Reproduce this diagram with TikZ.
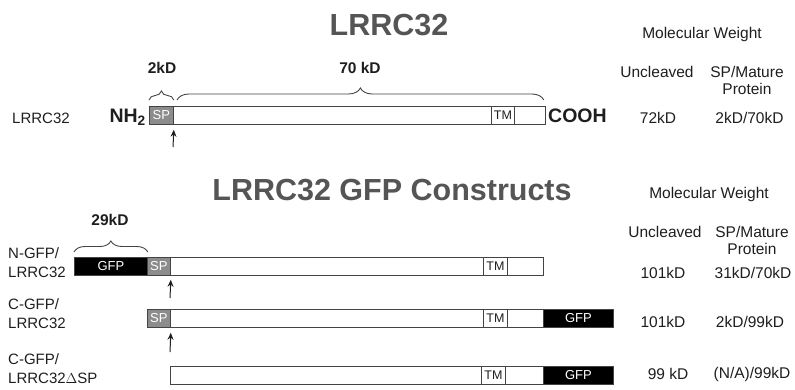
\documentclass[tikz,border=0pt]{standalone}
\usepackage{fontspec}
\setmainfont{Liberation Sans}
\usetikzlibrary{decorations.pathreplacing,arrows.meta}
\definecolor{titlegray}{HTML}{555555}
\definecolor{spgray}{HTML}{8C8C8C}
\definecolor{txt}{HTML}{1E1E1E}
\definecolor{edge}{HTML}{444444}
\tikzset{
  box/.style={draw=edge, line width=0.8pt, inner sep=0pt, anchor=north west, minimum height=18pt},
  barbox/.style={box, fill=white},
  spbox/.style={box, fill=spgray, text=white, font=\fontsize{13}{13}\selectfont},
  gfpbox/.style={box, fill=black, text=white, font=\fontsize{13}{13}\selectfont},
  tmbox/.style={box, fill=white, text=txt, font=\fontsize{12.5}{12.5}\selectfont},
  title/.style={text=titlegray, font=\fontsize{30.5}{34}\selectfont\bfseries, inner sep=0pt},
  lbl/.style={text=txt, font=\fontsize{15}{19}\selectfont, inner sep=0pt, align=left, anchor=west},
  val/.style={text=txt, font=\fontsize{15.5}{17}\selectfont, inner sep=0pt, align=center},
  kd/.style={text=txt, font=\fontsize{15.5}{17}\selectfont\bfseries, inner sep=0pt},
  term/.style={text=txt, font=\fontsize{19.5}{20}\selectfont\bfseries, inner sep=0pt},
  brc/.style={draw=edge, line width=0.9pt, decorate, decoration={brace, amplitude=#1}},
  uparrow/.style={draw=txt, line width=1pt, -{Stealth[length=7pt,width=6pt]}}
}
\begin{document}
\begin{tikzpicture}[x=1pt,y=-1pt]
\useasboundingbox (0,0) rectangle (795,390);
% ---------- top ----------
\node[title] (t1) at (389,25) {LRRC32};
\node[val] (mw1) at (702,34) {Molecular Weight};
\node[val] (unc1) at (657,72) {Uncleaved};
\node[val] (spm1) at (747,80.5) {SP/Mature\\Protein};

\node[lbl] (l0) at (12,118) {LRRC32};
\node[term, anchor=east] (nh2) at (146,117) {NH\textsubscript{2}};
\node[barbox, minimum width=372pt] (bar0) at (173,106) {};
\node[spbox, minimum width=24pt] (sp0) at (149,106) {SP};
\node[tmbox, minimum width=23pt] (tm0) at (491,106) {TM};
\node[term, anchor=west] (cooh) at (548,116) {COOH};
\node[val] (v0a) at (658,118) {72kD};
\node[val] (v0b) at (749.5,118) {2kD/70kD};

\draw[brc=9pt] ([yshift=6pt]sp0.north west) -- ([yshift=6pt]sp0.north east);
\draw[brc=12pt] ([xshift=4pt,yshift=6pt]bar0.north west) -- ([xshift=-2pt,yshift=6pt]bar0.north east);
\node[kd] (k2) at (162,68) {2kD};
\node[kd] (k70) at (360,68) {70 kD};
\coordinate (a0) at (173,147);
\draw[uparrow] (a0) -- ([yshift=-5pt]sp0.south east);

% ---------- bottom ----------
\node[title] (t2) at (392,190) {LRRC32 GFP Constructs};
\node[val] (mw2) at (709,194) {Molecular Weight};
\node[val] (unc2) at (665,232) {Uncleaved};
\node[val] (spm2) at (752,240.5) {SP/Mature\\Protein};

% row 1
\node[lbl] (l1) at (8,262.5) {N-GFP/\\LRRC32};
\node[gfpbox, minimum width=73pt] (g1) at (74,257) {GFP};
\node[spbox, minimum width=23pt] (sp1) at (147,257) {SP};
\node[barbox, minimum width=373pt] (bar1) at (170,257) {};
\node[tmbox, minimum width=24pt] (tm1) at (483,257) {TM};
\node[val] (v1a) at (663,273) {101kD};
\node[val] (v1b) at (753,273) {31kD/70kD};
\draw[brc=11pt] ([yshift=5pt]g1.north west) -- ([yshift=5pt]g1.north east);
\node[kd] (k29) at (110,220) {29kD};
\coordinate (a1) at (170,298);
\draw[uparrow] (a1) -- ([yshift=-4pt]sp1.south east);

% row 2
\node[lbl] (l2) at (8,314) {C-GFP/\\LRRC32};
\node[spbox, minimum width=23pt] (sp2) at (147,309) {SP};
\node[barbox, minimum width=373pt] (bar2) at (170,309) {};
\node[tmbox, minimum width=24pt] (tm2) at (483,309) {TM};
\node[gfpbox, minimum width=70pt] (g2) at (543,309) {GFP};
\node[val] (v2a) at (663,322) {101kD};
\node[val] (v2b) at (750,322) {2kD/99kD};
\coordinate (a2) at (170,352);
\draw[uparrow] (a2) -- ([yshift=-5pt]sp2.south east);

% row 3
\node[lbl] (l3) at (8,369) {C-GFP/\\LRRC32\(\Delta\)SP};
\node[barbox, minimum width=373pt] (bar3) at (170,366) {};
\node[tmbox, minimum width=24pt] (tm3) at (481,366) {TM};
\node[gfpbox, minimum width=70pt] (g3) at (543,366) {GFP};
\node[val] (v3a) at (668,374) {99 kD};
\node[val] (v3b) at (752,374) {(N/A)/99kD};
\end{tikzpicture}
\end{document}
